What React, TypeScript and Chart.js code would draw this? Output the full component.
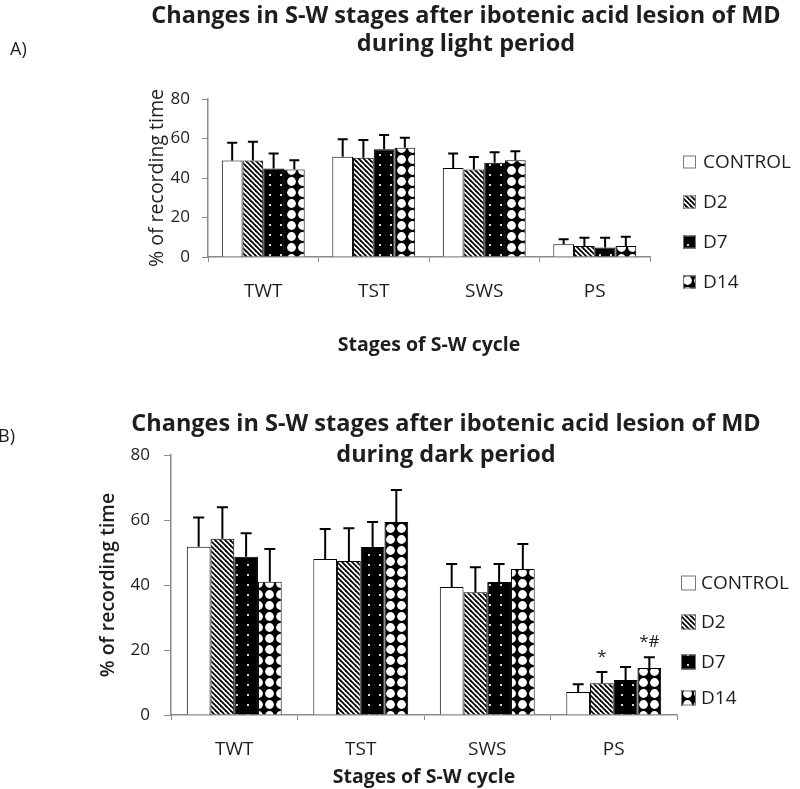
import { useEffect, useRef } from "react";
import { Chart, registerables } from "chart.js";

Chart.register(...registerables);

const STAGES = ["TWT", "TST", "SWS", "PS"];
const GROUPS = ["CONTROL", "D2", "D7", "D14"];

// light period: mean % of recording time and SD per group
const LIGHT_CONTROL = [48.9, 50.7, 45.1, 6.5];
const LIGHT_D2 = [48.9, 50.3, 44.3, 5.6];
const LIGHT_D7 = [44.8, 54.5, 47.7, 4.8];
const LIGHT_D14 = [44.3, 55.3, 49.0, 5.6];
const LIGHT_SD_CONTROL = [9.0, 8.9, 7.3, 2.5];
const LIGHT_SD_D2 = [9.5, 8.9, 6.3, 4.2];
const LIGHT_SD_D7 = [7.6, 7.3, 5.4, 5.0];
const LIGHT_SD_D14 = [4.7, 5.1, 4.6, 4.6];

// dark period
const DARK_CONTROL = [51.8, 48.0, 39.4, 7.1];
const DARK_D2 = [54.2, 47.4, 37.8, 9.8];
const DARK_D7 = [48.7, 51.7, 40.9, 10.8];
const DARK_D14 = [41.0, 59.4, 44.9, 14.5];
const DARK_SD_CONTROL = [9.0, 9.2, 7.1, 2.4];
const DARK_SD_D2 = [9.7, 10.1, 7.7, 3.4];
const DARK_SD_D7 = [7.2, 7.7, 5.6, 4.0];
const DARK_SD_D14 = [10.1, 9.8, 7.7, 3.3];

const DARK_MARKS = [
  { group: 1, stage: 3, text: "*" },
  { group: 3, stage: 3, text: "*#" },
];

const Y_MIN = 0;
const Y_MAX = 80;
const Y_STEP = 20;

const FONT = "'Open Sans', 'Noto Sans', sans-serif";
const INK = "#1e1e1e";
const AXIS = "#8a8a8a";

type Mark = { group: number; stage: number; text: string };

type Panel = {
  tag: string;
  titleLines: string[];
  means: number[][];
  sds: number[][];
  marks: Mark[];
  top: number;
  height: number;
  padding: { top: number; right: number; bottom: number; left: number };
  yWidth: number;
  xHeight: number;
  yTickLen: number;
  yTickPad: number;
  yTitlePad: number;
  yTitleWeight: string;
  xTickPad: number;
  xTitlePad: number;
  titleX: number;
  titleYs: number[];
  tagX: number;
  tagY: number;
  legendBoxX: number;
  legendBox: number;
  legendTextX: number;
  legendYs: number[];
  legendFont: number;
  cap: number;
};

const LIGHT_PANEL: Panel = {
  tag: "A)",
  titleLines: ["Changes in S-W stages after ibotenic acid lesion of MD", "during light period"],
  means: [LIGHT_CONTROL, LIGHT_D2, LIGHT_D7, LIGHT_D14],
  sds: [LIGHT_SD_CONTROL, LIGHT_SD_D2, LIGHT_SD_D7, LIGHT_SD_D14],
  marks: [],
  top: 0,
  height: 380,
  padding: { top: 99, right: 150, bottom: 23, left: 0 },
  yWidth: 208,
  xHeight: 100,
  yTickLen: 6,
  yTickPad: 12,
  yTitlePad: 145.3,
  yTitleWeight: "normal",
  xTickPad: 18.6,
  xTitlePad: 10.3,
  titleX: 466,
  titleYs: [16, 44],
  tagX: 10,
  tagY: 50,
  legendBoxX: 683,
  legendBox: 13,
  legendTextX: 703,
  legendYs: [162, 202, 242, 282],
  legendFont: 19,
  cap: 10,
};

const DARK_PANEL: Panel = {
  tag: "B)",
  titleLines: ["Changes in S-W stages after ibotenic acid lesion of MD", "during dark period"],
  means: [DARK_CONTROL, DARK_D2, DARK_D7, DARK_D14],
  sds: [DARK_SD_CONTROL, DARK_SD_D2, DARK_SD_D7, DARK_SD_D14],
  marks: DARK_MARKS,
  top: 380,
  height: 409,
  padding: { top: 75, right: 123, bottom: 0, left: 0 },
  yWidth: 171,
  xHeight: 74,
  yTickLen: 7,
  yTickPad: 14,
  yTitlePad: 96.3,
  yTitleWeight: "600",
  xTickPad: 18.6,
  xTitlePad: 5.3,
  titleX: 446,
  titleYs: [44, 75],
  tagX: -2,
  tagY: 57,
  legendBoxX: 681,
  legendBox: 15,
  legendTextX: 701,
  legendYs: [203, 242, 282, 318],
  legendFont: 19,
  cap: 11,
};

function makeFill(kind: string): CanvasPattern | string {
  if (kind === "white") return "#ffffff";
  const tile = document.createElement("canvas");
  const c = tile.getContext("2d")!;
  if (kind === "hatch") {
    tile.width = 5;
    tile.height = 5;
    c.fillStyle = "#fff";
    c.fillRect(0, 0, 5, 5);
    c.strokeStyle = "#000";
    c.lineWidth = 1.8;
    for (const x0 of [-5, 0, 5]) {
      c.beginPath();
      c.moveTo(x0 - 1, -1);
      c.lineTo(x0 + 6, 6);
      c.stroke();
    }
  } else if (kind === "dots") {
    tile.width = 11;
    tile.height = 10;
    c.fillStyle = "#000";
    c.fillRect(0, 0, 11, 10);
    c.fillStyle = "#d8d8d8";
    c.fillRect(5, 4, 2, 2);
  } else {
    // white discs with black four-point diamonds between them
    tile.width = 11;
    tile.height = 11;
    c.fillStyle = "#000";
    c.fillRect(0, 0, 11, 11);
    c.fillStyle = "#fff";
    c.beginPath();
    c.arc(5.5, 5.5, 4.4, 0, Math.PI * 2);
    c.fill();
  }
  return c.createPattern(tile, "repeat")!;
}

function decorPlugin(panel: Panel, fills: (CanvasPattern | string)[]) {
  return {
    id: "panelDecor",
    afterDatasetsDraw(chart: Chart) {
      const ctx = chart.ctx;
      const yScale = chart.scales.y;
      ctx.save();
      ctx.strokeStyle = "#000";
      ctx.lineWidth = 2;
      panel.sds.forEach((sdRow, i) => {
        const meta = chart.getDatasetMeta(i);
        meta.data.forEach((bar: any, j: number) => {
          const yTop = yScale.getPixelForValue(panel.means[i][j] + sdRow[j]);
          ctx.beginPath();
          ctx.moveTo(bar.x, bar.y);
          ctx.lineTo(bar.x, yTop);
          ctx.moveTo(bar.x - panel.cap / 2, yTop);
          ctx.lineTo(bar.x + panel.cap / 2, yTop);
          ctx.stroke();
        });
      });
      ctx.fillStyle = INK;
      ctx.font = `17px ${FONT}`;
      ctx.textAlign = "center";
      ctx.textBaseline = "alphabetic";
      panel.marks.forEach((m) => {
        const bar: any = chart.getDatasetMeta(m.group).data[m.stage];
        const yTop = yScale.getPixelForValue(panel.means[m.group][m.stage] + panel.sds[m.group][m.stage]);
        ctx.fillText(m.text, bar.x, yTop - 10);
      });
      ctx.restore();
    },
    afterDraw(chart: Chart) {
      const ctx = chart.ctx;
      ctx.save();
      ctx.fillStyle = INK;
      ctx.textBaseline = "middle";
      ctx.textAlign = "center";
      ctx.font = `bold 23.5px ${FONT}`;
      panel.titleLines.forEach((line, k) => ctx.fillText(line, panel.titleX, panel.titleYs[k]));
      ctx.textAlign = "left";
      ctx.font = `18px ${FONT}`;
      ctx.fillText(panel.tag, panel.tagX, panel.tagY);
      ctx.font = `${panel.legendFont}px ${FONT}`;
      GROUPS.forEach((name, i) => {
        const y = panel.legendYs[i];
        const s = panel.legendBox;
        ctx.fillStyle = fills[i];
        ctx.fillRect(panel.legendBoxX, y - s / 2, s, s);
        ctx.strokeStyle = "#777";
        ctx.lineWidth = 1;
        ctx.strokeRect(panel.legendBoxX + 0.5, y - s / 2 + 0.5, s - 1, s - 1);
        ctx.fillStyle = INK;
        ctx.fillText(name, panel.legendTextX, y + 1);
      });
      ctx.restore();
    },
  };
}

function BarPanel({ panel }: { panel: Panel }) {
  const canvasRef = useRef<HTMLCanvasElement | null>(null);

  useEffect(() => {
    if (!canvasRef.current) {
      return;
    }
    const fills = ["white", "hatch", "dots", "diamonds"].map(makeFill);

    const chart = new Chart(canvasRef.current, {
      type: "bar",
      data: {
        labels: STAGES,
        datasets: GROUPS.map((name, i) => ({
          label: name,
          data: panel.means[i],
          backgroundColor: fills[i] as any,
          borderColor: "#000",
          borderWidth: 1,
          categoryPercentage: 0.75,
          barPercentage: 1,
        })),
      },
      options: {
        responsive: false,
        animation: false,
        events: [],
        layout: { padding: panel.padding },
        plugins: {
          legend: { display: false },
          title: { display: false },
          tooltip: { enabled: false },
        },
        scales: {
          x: {
            grid: { display: true, drawOnChartArea: false, drawTicks: true, tickLength: 5, color: AXIS },
            border: { display: true, color: AXIS, width: 1.5 },
            ticks: { color: INK, font: { family: FONT, size: 19 }, padding: panel.xTickPad },
            title: {
              display: true,
              text: "Stages of S-W cycle",
              color: INK,
              font: { family: FONT, size: 19.5, weight: "bold" },
              padding: { top: panel.xTitlePad, bottom: 0 },
            },
            afterFit: (scale: any) => {
              scale.height = panel.xHeight;
            },
          },
          y: {
            min: Y_MIN,
            max: Y_MAX,
            grid: { display: true, drawOnChartArea: false, drawTicks: true, tickLength: panel.yTickLen, color: AXIS },
            border: { display: true, color: AXIS, width: 1.5 },
            ticks: { stepSize: Y_STEP, color: INK, font: { family: FONT, size: 17 }, padding: panel.yTickPad },
            title: {
              display: true,
              text: "% of recording time",
              color: INK,
              font: { family: FONT, size: 19.5, weight: panel.yTitleWeight as any },
              padding: { top: panel.yTitlePad, bottom: 0 },
            },
            afterFit: (scale: any) => {
              scale.width = panel.yWidth;
            },
          },
        },
      },
      plugins: [decorPlugin(panel, fills)],
    });

    return () => {
      chart.destroy();
    };
  }, [panel]);

  return (
    <canvas
      ref={canvasRef}
      width={800}
      height={panel.height}
      style={{ position: "absolute", left: 0, top: panel.top, width: 800, height: panel.height }}
    />
  );
}

export default function App() {
  return (
    <div style={{ position: "absolute", left: 0, top: 0, width: 800, height: 789, background: "#fff" }}>
      <BarPanel panel={LIGHT_PANEL} />
      <BarPanel panel={DARK_PANEL} />
    </div>
  );
}
